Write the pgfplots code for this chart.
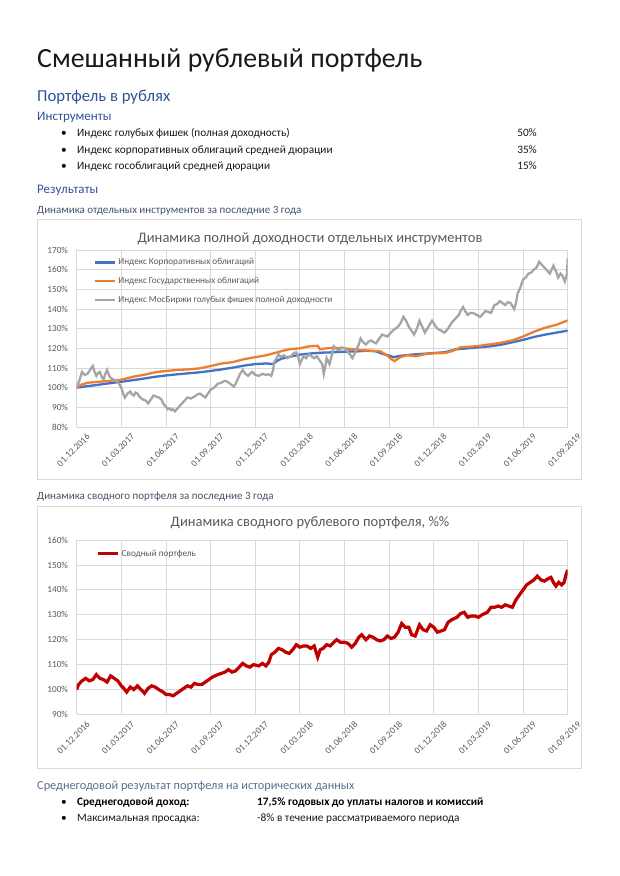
\documentclass[border=0pt]{standalone}
\usepackage{fontspec}
\setmainfont{Carlito}
\usepackage{pgfplots}
\pgfplotsset{compat=1.18}
\definecolor{hblue}{HTML}{2F5496}
\definecolor{hsub}{HTML}{44546A}
\definecolor{hsub2}{HTML}{5A6E94}
\definecolor{cgrid}{HTML}{D9D9D9}
\definecolor{ctext}{HTML}{595959}
\definecolor{xlblue}{HTML}{4472C4}
\definecolor{xlorange}{HTML}{ED7D31}
\definecolor{xlgray}{HTML}{A5A5A5}
\definecolor{xlred}{HTML}{C00000}
\newcommand{\fs}[1]{\fontsize{#1}{#1}\selectfont}
\pgfplotsset{
 docchart/.style={
  scale only axis, width=491pt,
  xmin=0, xmax=11, xtick={0,...,11},
  xticklabels={01.12.2016,01.03.2017,01.06.2017,01.09.2017,01.12.2017,01.03.2018,01.06.2018,01.09.2018,01.12.2018,01.03.2019,01.06.2019,01.09.2019},
  grid=major, major grid style={cgrid, line width=0.8pt},
  axis line style={draw=none},
  major tick length=0pt,
  tick label style={font=\fs{9.2}, text=ctext},
  /pgf/number format/assume math mode=true,
  yticklabel={\pgfmathprintnumber{\tick}\%},
  yticklabel style={inner sep=0pt, anchor=east, xshift=-8.5pt},
  xticklabel style={rotate=45, anchor=east, inner sep=0pt, xshift=2.5pt, yshift=-14pt},
  legend cell align=left,
  legend image code/.code={\draw[##1] (0pt,0pt) -- (20pt,0pt);},
  legend style={draw=none, fill=none, font=\fs{9.2}, text=ctext, anchor=north west,
    inner sep=0pt, row sep=11pt, nodes={inner sep=0pt},
    /tikz/every odd column/.append style={column sep=2pt}},
 }
}
\begin{document}
\begin{tikzpicture}
\fill[white] (0pt,0pt) rectangle (620pt,876pt);
\useasboundingbox (0pt,0pt) rectangle (620pt,876pt);
% header texts
\node[anchor=base west, inner sep=0pt, font=\fs{27.8}, text=black!90] at (37pt,808pt) {Смешанный рублевый портфель};
\node[anchor=base west, inner sep=0pt, font=\fs{16.7}, text=hblue] at (37pt,774pt) {Портфель в рублях};
\node[anchor=base west, inner sep=0pt, font=\fs{13}, text=hblue] at (37pt,755pt) {Инструменты};
\node[anchor=base west, inner sep=0pt, font=\fs{11.3}] at (61pt,739pt) {•};
\node[anchor=base west, inner sep=0pt, font=\fs{11.3}] at (61pt,722pt) {•};
\node[anchor=base west, inner sep=0pt, font=\fs{11.3}] at (61pt,706pt) {•};
\node[anchor=base west, inner sep=0pt, font=\fs{11.3}, text=black!90] at (77pt,739pt) {Индекс голубых фишек (полная доходность)};
\node[anchor=base west, inner sep=0pt, font=\fs{11.3}, text=black!90] at (77pt,722pt) {Индекс корпоративных облигаций средней дюрации};
\node[anchor=base west, inner sep=0pt, font=\fs{11.3}, text=black!90] at (77pt,706pt) {Индекс гособлигаций средней дюрации};
\node[anchor=base east, inner sep=0pt, font=\fs{11.3}, text=black!90] at (537pt,739pt) {50\%};
\node[anchor=base east, inner sep=0pt, font=\fs{11.3}, text=black!90] at (537pt,722pt) {35\%};
\node[anchor=base east, inner sep=0pt, font=\fs{11.3}, text=black!90] at (537pt,706pt) {15\%};
\node[anchor=base west, inner sep=0pt, font=\fs{13}, text=hblue] at (37pt,682pt) {Результаты};
\node[anchor=base west, inner sep=0pt, font=\fs{11}, text=hsub] at (37pt,662pt) {Динамика отдельных инструментов за последние 3 года};
% chart 1 frame
\draw[cgrid, line width=0.8pt] (37pt,397pt) rectangle (581pt,657pt);
\node[anchor=base, inner sep=0pt, font=\fs{14.5}, text=ctext] at (310pt,633pt) {Динамика полной доходности отдельных инструментов};
\begin{axis}[docchart, at={(76.7pt,449pt)}, anchor=south west, height=177pt,
  ymin=80, ymax=170, ytick={80,90,...,170},
  legend style={at={(0.035,0.952)}}]
\addplot[xlblue, line width=2.3pt] coordinates {
(0,100)(0.25,100.8)(0.5,101.5)(0.75,102.3)(1,103)(1.25,103.8)(1.5,104.6)(1.75,105.5)(2,106.2)(2.25,106.8)(2.5,107.3)(2.75,107.8)(3,108.5)(3.25,109.3)(3.5,110.2)(3.75,111.2)(4,112)(4.25,112.3)(4.4,112)(4.5,113.8)(4.6,114.8)(4.75,115.6)(5,116.8)(5.25,117.4)(5.5,117.8)(5.75,118)(6,118.3)(6.25,118.4)(6.5,118.8)(6.7,118.5)(6.85,117.2)(7,116.3)(7.1,115.5)(7.25,116.2)(7.5,116.8)(7.75,117.2)(8,117.6)(8.25,118)(8.5,119.5)(8.75,120)(9,120.5)(9.25,121)(9.5,121.8)(9.75,123)(10,124.3)(10.25,125.8)(10.5,127)(10.75,128)(11,129)};
\addlegendentry{Индекс Корпоративных облигаций}
\addplot[xlorange, line width=2.3pt] coordinates {
(0,100)(0.1,101.5)(0.25,102.5)(0.5,103)(0.75,103.5)(1,104)(1.25,105.5)(1.5,106.5)(1.75,107.8)(2,108.5)(2.25,109)(2.5,109.3)(2.75,109.8)(3,111)(3.25,112.3)(3.5,113)(3.75,114.5)(4,115.5)(4.25,116.5)(4.5,118)(4.75,119.5)(5,120)(5.2,121)(5.4,121.3)(5.45,119.5)(5.6,120)(5.75,120.3)(6,120)(6.2,119.5)(6.4,119)(6.6,118.8)(6.8,118.5)(6.95,116.5)(7.05,114.5)(7.12,113.5)(7.25,115.5)(7.4,116.5)(7.6,116)(7.8,117)(8,117.5)(8.25,117.6)(8.4,118.5)(8.6,120.5)(8.8,120.8)(9,121.2)(9.25,122)(9.5,122.8)(9.75,124)(10,126)(10.25,128.5)(10.5,130.5)(10.75,132)(11,134.2)};
\addlegendentry{Индекс Государственных облигаций}
\addplot[xlgray, line width=2.3pt] coordinates {
(0,100)(0.064,104)(0.12,108)(0.18,106.5)(0.24,107)(0.3,109)(0.36,111)(0.4,108)(0.44,106)(0.48,107.5)(0.52,108)(0.56,105.5)(0.6,104)(0.64,107)(0.68,109)(0.72,106.5)(0.76,105)(0.84,104)(0.92,103)(0.96,101.5)(1.0,100)(1.04,97)(1.08,95)(1.14,97)(1.2,98)(1.24,96.5)(1.28,96)(1.32,97.5)(1.36,97)(1.42,95)(1.48,94)(1.54,93.5)(1.6,92)(1.66,94)(1.72,96)(1.78,95.5)(1.84,95)(1.9,94)(1.936,92)(1.99,90.5)(2.04,89)(2.08,89.5)(2.12,88.5)(2.16,89)(2.2,88)(2.26,89.5)(2.32,91)(2.4,93)(2.48,95)(2.56,94.5)(2.64,95.5)(2.7,96.5)(2.76,97)(2.82,96)(2.88,95)(2.94,97)(3.0,99)(3.08,100)(3.16,102)(3.24,102.5)(3.32,103.5)(3.38,103)(3.44,102)(3.52,100.5)(3.56,102)(3.6,104)(3.66,107)(3.72,109)(3.78,107)(3.84,106)(3.9,107.5)(3.936,108)(4.0,106.5)(4.08,106)(4.16,107)(4.24,106.5)(4.3,106.8)(4.36,106)(4.4,109)(4.424,113)(4.48,115)(4.52,117)(4.58,115.5)(4.64,116.5)(4.72,115)(4.8,116)(4.86,117.5)(4.92,118)(4.96,116)(5.0,112)(5.04,114)(5.08,116)(5.14,115)(5.2,117)(5.26,116)(5.32,115)(5.38,116)(5.44,114)(5.5,112)(5.536,107)(5.57,111)(5.6,115)(5.664,112)(5.72,117)(5.76,121)(5.82,119.5)(5.88,119)(5.94,120.5)(6.0,120)(6.08,118)(6.12,117)(6.176,115)(6.22,117)(6.28,120)(6.32,122)(6.36,125)(6.42,123)(6.48,122)(6.54,123.5)(6.6,124)(6.66,123)(6.704,122.5)(6.78,125)(6.84,127)(6.9,126.5)(6.96,126)(7.02,127.5)(7.08,129)(7.14,130)(7.2,131)(7.26,133)(7.32,136)(7.38,134)(7.44,131)(7.5,129)(7.56,127)(7.62,130)(7.68,134)(7.74,131)(7.8,128)(7.88,131)(7.96,134)(8.02,132)(8.08,130)(8.16,129)(8.24,128)(8.32,130)(8.4,133)(8.48,135)(8.56,137)(8.6,139)(8.656,141)(8.7,139)(8.76,137)(8.82,138)(8.88,138)(8.96,137)(9.04,136)(9.1,137.5)(9.16,139)(9.22,138.5)(9.28,138)(9.36,142)(9.42,142.5)(9.48,144)(9.54,143)(9.6,142)(9.66,143.5)(9.72,143)(9.76,141.5)(9.8,140)(9.84,143)(9.88,148)(9.94,151)(10.0,155)(10.06,156)(10.12,158)(10.18,158.5)(10.24,160)(10.3,161)(10.36,164)(10.42,162.5)(10.48,161)(10.54,159.5)(10.6,158)(10.64,160)(10.68,162)(10.74,159)(10.784,156)(10.84,158)(10.88,157)(10.936,154)(10.984,158)(11.0,166)};
\addlegendentry{Индекс МосБиржи голубых фишек полной доходности}
\end{axis}
% chart 2
\node[anchor=base west, inner sep=0pt, font=\fs{11}, text=hsub] at (37pt,376pt) {Динамика сводного портфеля за последние 3 года};
\draw[cgrid, line width=0.8pt] (37pt,108pt) rectangle (581pt,370pt);
\node[anchor=base, inner sep=0pt, font=\fs{14.5}, text=ctext] at (310pt,349pt) {Динамика сводного рублевого портфеля, \%\%};
\begin{axis}[docchart, at={(76.7pt,161.5pt)}, anchor=south west, height=174.5pt,
  ymin=90, ymax=160, ytick={90,100,...,160},
  legend style={at={(0.04,0.945)}}]
\addplot[xlred, line width=3.2pt] coordinates {
(0,100)(0.04,102)(0.12,103.5)(0.2,104.5)(0.28,103.5)(0.36,104)(0.44,106)(0.52,104.5)(0.6,104)(0.68,103)(0.76,105.5)(0.84,104.5)(0.92,103.5)(1.0,101.5)(1.056,100.5)(1.12,99)(1.2,101)(1.28,100)(1.36,101.5)(1.44,100)(1.52,98.5)(1.6,100.5)(1.68,101.5)(1.76,101)(1.84,100)(1.936,99)(2.0,98)(2.08,98)(2.16,97.5)(2.24,98.5)(2.32,99.5)(2.4,100.5)(2.48,101.5)(2.56,101)(2.64,102.5)(2.72,102)(2.8,102)(2.88,103)(2.96,104)(3.04,105)(3.16,106)(3.24,106.5)(3.32,107)(3.4,108)(3.48,107)(3.56,107.5)(3.64,109)(3.72,110.5)(3.8,109.5)(3.88,109)(3.96,110)(4.08,109.5)(4.16,110.5)(4.24,109.5)(4.304,111)(4.36,114)(4.44,115)(4.52,116.5)(4.6,116)(4.68,115)(4.76,114.5)(4.84,116)(4.92,118)(5.0,117)(5.08,117.5)(5.16,117.5)(5.24,116.5)(5.32,117.5)(5.4,113)(5.456,116)(5.52,116.5)(5.6,118)(5.68,117.5)(5.76,119)(5.824,120)(5.904,119)(6.0,119)(6.08,118.5)(6.16,117)(6.24,118.5)(6.32,121)(6.384,122)(6.48,120)(6.56,121.5)(6.64,121)(6.72,120)(6.8,119.5)(6.88,120)(6.96,121.5)(7.04,120.5)(7.12,121)(7.2,123)(7.28,126.5)(7.36,125)(7.44,125)(7.504,122)(7.584,121.5)(7.68,126)(7.76,124)(7.84,123.5)(7.92,126)(8.0,125)(8.08,123)(8.16,123.5)(8.24,124)(8.32,127)(8.4,128)(8.52,129)(8.6,130.5)(8.68,131)(8.76,129)(8.84,129.5)(8.92,129.5)(9.0,129)(9.08,130)(9.2,131)(9.28,133)(9.36,133)(9.44,133.5)(9.52,133)(9.6,134)(9.68,133.5)(9.76,133)(9.84,136)(9.92,138)(10.0,140)(10.08,142)(10.16,143)(10.24,144)(10.32,145.5)(10.4,144)(10.48,143.5)(10.56,144.5)(10.624,145)(10.68,143)(10.736,141.5)(10.8,143)(10.864,142)(10.92,143)(10.96,146)(11.0,148)};
\addlegendentry{Сводный портфель}
\end{axis}
% bottom texts
\node[anchor=base west, inner sep=0pt, font=\fs{12.3}, text=hsub2] at (37pt,86pt) {Среднегодовой результат портфеля на исторических данных};
\node[anchor=base west, inner sep=0pt, font=\fs{11.3}] at (61pt,70pt) {•};
\node[anchor=base west, inner sep=0pt, font=\fs{11.3}] at (61pt,54pt) {•};
\node[anchor=base west, inner sep=0pt, font=\fs{11.3}\bfseries] at (77pt,70pt) {Среднегодовой доход:};
\node[anchor=base west, inner sep=0pt, font=\fs{11.3}\bfseries] at (257pt,70pt) {17,5\% годовых до уплаты налогов и комиссий};
\node[anchor=base west, inner sep=0pt, font=\fs{11.3}, text=black!90] at (77pt,54pt) {Максимальная просадка:};
\node[anchor=base west, inner sep=0pt, font=\fs{11.3}, text=black!90] at (257pt,54pt) {-8\% в течение рассматриваемого периода};
\end{tikzpicture}
\end{document}
